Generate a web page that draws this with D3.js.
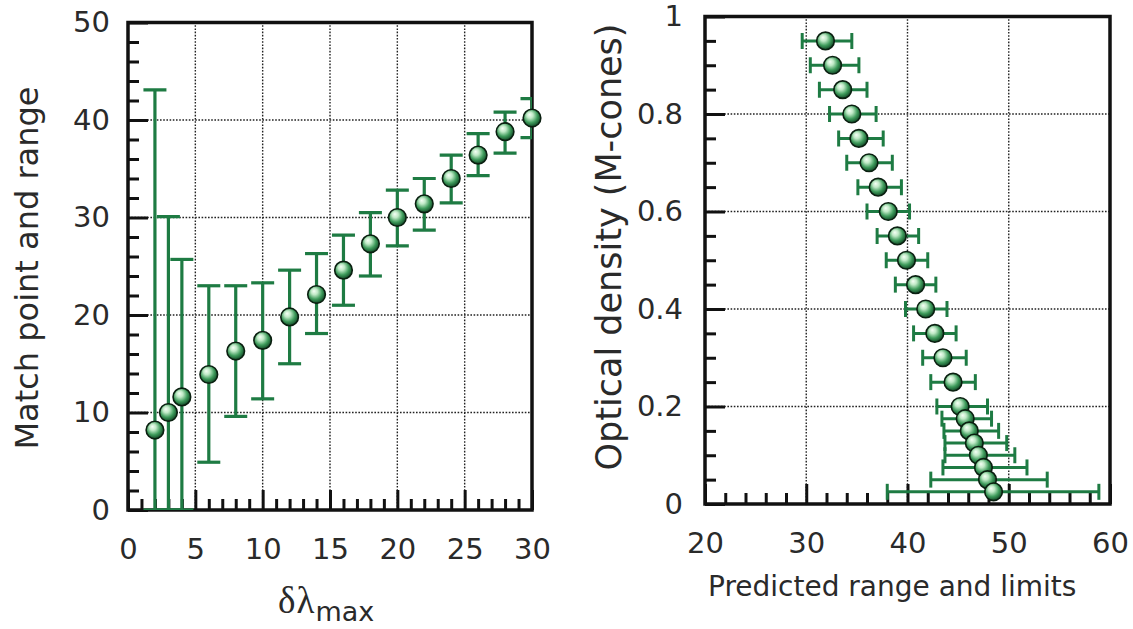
<!DOCTYPE html>
<html><head><meta charset="utf-8">
<script src="https://cdn.jsdelivr.net/npm/d3@7"></script>
<style>
html,body{margin:0;padding:0;background:#fff;}
text{font-family:"DejaVu Sans",Verdana,sans-serif;fill:#2a2a2a;}
</style></head>
<body>
<svg id="chart" width="1133" height="629"></svg>
<script>
// ---- Left panel data ----
const leftX     = [2, 3, 4, 6, 8, 10, 12, 14, 16, 18, 20, 22, 24, 26, 28, 30];
const leftMid   = [8.2, 10, 11.6, 13.9, 16.3, 17.4, 19.8, 22.1, 24.6, 27.3, 30, 31.4, 34, 36.4, 38.8, 40.2];
const leftLow   = [0, 0, 0, 4.9, 9.6, 11.4, 15, 18.1, 21, 24, 27.1, 28.7, 31.5, 34.3, 36.6, 38.2];
const leftHigh  = [43.1, 30.1, 25.7, 23, 23, 23.3, 24.6, 26.3, 28.2, 30.5, 32.8, 34, 36.4, 38.6, 40.8, 42.2];
const leftXTicks = [0, 5, 10, 15, 20, 25, 30];
const leftYTicks = [0, 10, 20, 30, 40, 50];

// ---- Right panel data ----
const rightY    = [0.95, 0.9, 0.85, 0.8, 0.75, 0.7, 0.65, 0.6, 0.55, 0.5, 0.45, 0.4, 0.35, 0.3, 0.25,
                   0.2, 0.175, 0.15, 0.125, 0.1, 0.075, 0.05, 0.025];
const rightMid  = [31.9, 32.6, 33.6, 34.5, 35.2, 36.2, 37.1, 38.1, 39.0, 39.9, 40.8, 41.8, 42.7, 43.5, 44.5,
                   45.2, 45.7, 46.1, 46.6, 47.0, 47.5, 47.9, 48.5];
const rightLow  = [29.6, 30.4, 31.3, 32.3, 33.2, 34.0, 35.1, 36.0, 37.0, 37.9, 38.8, 39.8, 40.6, 41.5, 42.3,
                   42.9, 43.4, 43.6, 43.7, 43.7, 43.5, 42.3, 38.0];
const rightHigh = [34.5, 35.2, 36.0, 36.9, 37.6, 38.5, 39.4, 40.2, 41.1, 42.0, 42.8, 43.9, 44.8, 45.8, 46.7,
                   47.9, 48.3, 49.0, 49.8, 50.6, 51.8, 53.8, 58.9];
const rightXTicks = [20, 30, 40, 50, 60];
const rightYTicks = [0, 0.2, 0.4, 0.6, 0.8, 1];

const green = "#1e7b43";
const svg = d3.select("#chart");

// marker gradient
const defs = svg.append("defs");
const grad = defs.append("radialGradient").attr("id","ball")
  .attr("cx","45%").attr("cy","42%").attr("r","60%").attr("fx","35%").attr("fy","30%");
grad.append("stop").attr("offset","0%").attr("stop-color","#f6fff6");
grad.append("stop").attr("offset","30%").attr("stop-color","#bfe9c6");
grad.append("stop").attr("offset","65%").attr("stop-color","#3f9c5c");
grad.append("stop").attr("offset","100%").attr("stop-color","#0c4020");

function panel(opts){
  const {x, y, xMajor, yMajor, xMinor, yMinor, id} = opts;
  const [x0,x1] = x.range(), [y0,y1] = y.range();
  const g = svg.append("g");
  defs.append("clipPath").attr("id", id).append("rect")
    .attr("x", x0).attr("y", y1).attr("width", x1-x0).attr("height", y0-y1);
  // grid
  const grid = g.append("g").attr("stroke","#222").attr("stroke-width",1.4).attr("stroke-dasharray","1.6,1.6");
  grid.selectAll(".gx").data(xMajor.filter(v => v>x.domain()[0] && v<x.domain()[1])).join("line")
    .attr("x1", d=>x(d)).attr("x2", d=>x(d)).attr("y1", y0).attr("y2", y1);
  grid.selectAll(".gy").data(yMajor.filter(v => v>y.domain()[0] && v<y.domain()[1])).join("line")
    .attr("x1", x0).attr("x2", x1).attr("y1", d=>y(d)).attr("y2", d=>y(d));
  // axes: major
  const axL = g.append("g").attr("transform",`translate(${x0},0)`)
    .call(d3.axisLeft(y).tickValues(yMajor).tickSize(-20).tickPadding(opts.yPad).tickFormat(opts.yFmt));
  const axB = g.append("g").attr("transform",`translate(0,${y0})`)
    .call(d3.axisBottom(x).tickValues(xMajor).tickSize(-20).tickPadding(opts.xPad).tickFormat(d3.format("d")));
  // minor
  const mL = g.append("g").attr("transform",`translate(${x0},0)`)
    .call(d3.axisLeft(y).tickValues(yMinor).tickSize(-11).tickFormat(""));
  const mB = g.append("g").attr("transform",`translate(0,${y0})`)
    .call(d3.axisBottom(x).tickValues(xMinor).tickSize(-11).tickFormat(""));
  [axL,axB,mL,mB].forEach(a => {
    a.select(".domain").remove();
    a.selectAll(".tick line").attr("stroke","#111").attr("stroke-width",3);
    a.selectAll(".tick text").style("font-size","29px").attr("fill","#2a2a2a");
  });
  // frame
  g.append("rect").attr("x",x0).attr("y",y1).attr("width",x1-x0).attr("height",y0-y1)
    .attr("fill","none").attr("stroke","#111").attr("stroke-width",3.5);
  return g;
}

// ---------- LEFT PANEL ----------
const xL = d3.scaleLinear().domain([0,30]).range([128,532]);
const yL = d3.scaleLinear().domain([0,50]).range([510,22.5]);
const gL = panel({x:xL, y:yL, id:"clipL",
  xMajor:leftXTicks, yMajor:leftYTicks,
  xMinor:d3.range(1,30).filter(v=>v%5), yMinor:d3.range(2,50,2).filter(v=>v%10),
  xPad:28, yPad:18, yFmt:d3.format("d")});

const leftData = leftX.map((v,i)=>({x:v, m:leftMid[i], lo:leftLow[i], hi:leftHigh[i]}));
const ebL = gL.append("g").attr("clip-path","url(#clipL)").attr("stroke",green).attr("stroke-width",3.2).attr("fill","none");
ebL.selectAll(".v").data(leftData).join("line")
  .attr("x1",d=>xL(d.x)).attr("x2",d=>xL(d.x)).attr("y1",d=>yL(d.lo)).attr("y2",d=>yL(d.hi));
ebL.selectAll(".c1").data(leftData).join("line")
  .attr("x1",d=>xL(d.x)-11.5).attr("x2",d=>xL(d.x)+11.5).attr("y1",d=>yL(d.hi)).attr("y2",d=>yL(d.hi));
ebL.selectAll(".c2").data(leftData).join("line")
  .attr("x1",d=>xL(d.x)-11.5).attr("x2",d=>xL(d.x)+11.5).attr("y1",d=>yL(d.lo)).attr("y2",d=>yL(d.lo));
gL.append("g").selectAll("circle").data(leftData).join("circle")
  .attr("cx",d=>xL(d.x)).attr("cy",d=>yL(d.m)).attr("r",8.8)
  .attr("fill","url(#ball)").attr("stroke","#0a1f10").attr("stroke-width",1.6);

// titles left
svg.append("text").attr("transform","translate(38,268) rotate(-90)").attr("text-anchor","middle")
  .style("font-size","32px").text("Match point and range");
const xt = svg.append("text").attr("x",278).attr("y",613).attr("text-anchor","start");
xt.append("tspan").style("font-family","'Liberation Serif','DejaVu Serif',serif").style("font-size","37px")
  .attr("letter-spacing","1px").text("δλ");
xt.append("tspan").attr("dy",8).style("font-size","27px").text("max");

// ---------- RIGHT PANEL ----------
const xR = d3.scaleLinear().domain([20,60]).range([705,1110]);
const yR = d3.scaleLinear().domain([0,1]).range([504,16.5]);
const gR = panel({x:xR, y:yR, id:"clipR",
  xMajor:rightXTicks, yMajor:rightYTicks,
  xMinor:d3.range(22,60,2).filter(v=>v%10), yMinor:[0.05,0.1,0.15,0.25,0.3,0.35,0.45,0.5,0.55,0.65,0.7,0.75,0.85,0.9,0.95],
  xPad:28, yPad:22, yFmt:d=> d===0||d===1 ? d3.format("d")(d) : d3.format(".1f")(d)});

const rightData = rightY.map((v,i)=>({y:v, m:rightMid[i], lo:rightLow[i], hi:rightHigh[i]}));
const ebR = gR.append("g").attr("clip-path","url(#clipR)").attr("stroke",green).attr("stroke-width",3).attr("fill","none");
ebR.selectAll(".h").data(rightData).join("line")
  .attr("y1",d=>yR(d.y)).attr("y2",d=>yR(d.y)).attr("x1",d=>xR(d.lo)).attr("x2",d=>xR(d.hi));
ebR.selectAll(".c1").data(rightData).join("line")
  .attr("y1",d=>yR(d.y)-8).attr("y2",d=>yR(d.y)+8).attr("x1",d=>xR(d.lo)).attr("x2",d=>xR(d.lo));
ebR.selectAll(".c2").data(rightData).join("line")
  .attr("y1",d=>yR(d.y)-8).attr("y2",d=>yR(d.y)+8).attr("x1",d=>xR(d.hi)).attr("x2",d=>xR(d.hi));
gR.append("g").selectAll("circle").data(rightData).join("circle")
  .attr("cx",d=>xR(d.m)).attr("cy",d=>yR(d.y)).attr("r",8.8)
  .attr("fill","url(#ball)").attr("stroke","#0a1f10").attr("stroke-width",1.6);

svg.append("text").attr("transform","translate(621,247) rotate(-90)").attr("text-anchor","middle")
  .style("font-size","35px").text("Optical density  (M-cones)");
svg.append("text").attr("x",708).attr("y",596).attr("text-anchor","start")
  .style("font-size","28px").text("Predicted range and limits");
</script>
</body></html>
